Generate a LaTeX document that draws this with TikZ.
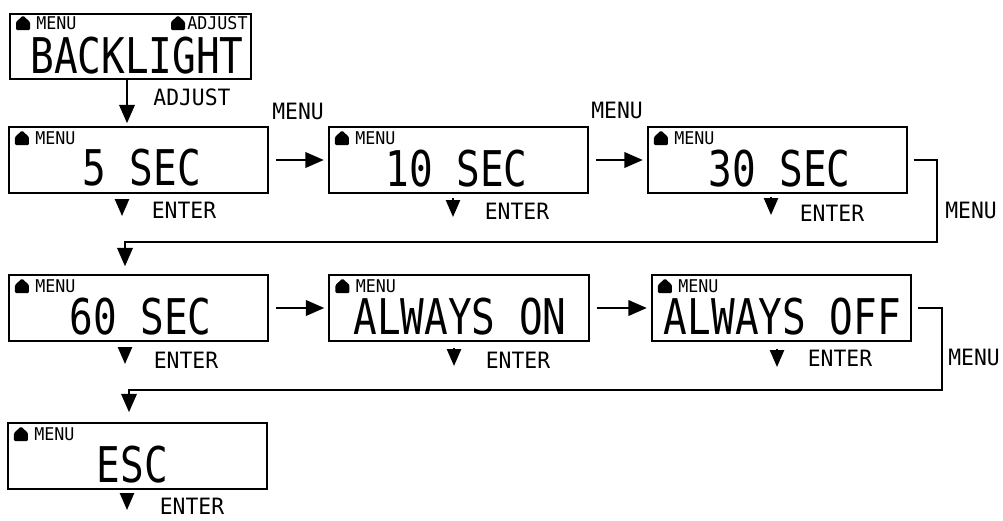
\documentclass[tikz,border=0pt]{standalone}
\usepackage{fontspec}
\usetikzlibrary{arrows.meta,calc,positioning}
\newfontfamily\lcdfont[FakeStretch=0.8]{DejaVu Sans Mono}
\newfontfamily\keyfont[FakeStretch=0.95]{DejaVu Sans Mono}
\tikzset{home/.pic={\fill[rounded corners=0.8pt] (-7,7) -- (-7,-1) -- (0,-7.5) -- (7,-1) -- (7,7) -- cycle;}}

\begin{document}
\begin{tikzpicture}[x=0.025cm,y=-0.025cm,
    screen/.style={rectangle,draw,line width=1.4pt,minimum width=6.475cm,minimum height=1.65cm,inner sep=0pt},
    big/.style={inner sep=0pt,font=\lcdfont\fontsize{35}{35}\selectfont},
    hdr/.style={inner sep=0pt,anchor=west,font=\keyfont\fontsize{12.5}{12.5}\selectfont},
    key/.style={inner sep=0pt,font=\keyfont\fontsize{16}{16}\selectfont},
    flow/.style={line width=1.4pt,-{Triangle[length=13pt,width=11pt]}},
    press/.style={line width=1.4pt,-{Triangle[length=12pt,width=10pt]}}]

 \useasboundingbox (0,0) rectangle (1003,520);

%Top screen
 \node[screen,minimum width=6.025cm,minimum height=1.625cm] (bl) at (130.5,46.5) {};
 \node[big] (bltxt) at (137,56) {BACKLIGHT};
 \pic at (23,23) {home};
 \node[hdr] (blmenu) at (36,23) {MENU};
 \pic at (178,23) {home};
 \node[hdr] (bladj) at (187,23) {ADJUST};

%Screens of the menu
 \node[screen] (s5) at (138.5,160) {};
 \node[big] (s5txt) at ($(s5)+(3,8)$) {5 SEC};
 \node[screen] (s10) at (458.5,160) {};
 \node[big] (s10txt) at ($(s10)+(-2,9)$) {10 SEC};
 \node[screen] (s30) at (777.5,160) {};
 \node[big] (s30txt) at ($(s30)+(2,9)$) {30 SEC};

 \node[screen] (s60) at (138.5,308) {};
 \node[big] (s60txt) at ($(s60)+(2,9)$) {60 SEC};
 \node[screen] (son) at (459,308) {};
 \node[big] (sontxt) at ($(son)+(1,9)$) {ALWAYS ON};
 \node[screen] (soff) at (781.5,308) {};
 \node[big] (sofftxt) at ($(soff)+(1,9)$) {ALWAYS OFF};

 \node[screen] (esc) at (137.5,456) {};
 \node[big] (esctxt) at ($(esc)+(-5,9)$) {ESC};

 \foreach \b in {s5,s10,s30,s60,son,soff,esc}
 {\pic at ($(\b.north west)+(14,12)$) {home};
  \node[hdr] (\b-menu) at ($(\b.north west)+(27,12)$) {MENU};}

%Key presses between screens
 \coordinate (c1) at (127,0);
 \draw[flow,shorten >=2pt] (bl.south -| c1) -- (s5.north -| c1);
 \node[key] (adj) at (192,97) {ADJUST};

 \draw[flow,shorten <=5pt,shorten >=3pt] (s5) -- (s10);
 \node[key] (m1) at (298,111) {MENU};
 \draw[flow,shorten <=5pt,shorten >=3pt] (s10) -- (s30);
 \node[key] (m2) at (617,110) {MENU};

 \coordinate (r1) at (937,242);
 \coordinate (l1) at (125,242);
 \draw[flow,shorten <=4pt,shorten >=5.5pt] (s30.east) -| (r1) -- (l1) -- (s60.north -| l1);
 \node[key] (m3) at (971,210) {MENU};

 \draw[flow,shorten <=5pt,shorten >=3pt] (s60) -- (son);
 \draw[flow,shorten <=5pt,shorten >=3pt] (son) -- (soff);

 \coordinate (r2) at (942,390);
 \coordinate (l2) at (129,390);
 \draw[flow,shorten <=4pt,shorten >=7pt] (soff.east) -| (r2) -- (l2) -- (esc.north -| l2);
 \node[key] (m4) at (974,357) {MENU};

%ENTER marks
 \coordinate (p5a) at (122,200);   \coordinate (p5b) at (122,216);
 \coordinate (p10a) at (453,198);  \coordinate (p10b) at (453,217);
 \coordinate (p30a) at (771,197);  \coordinate (p30b) at (771,215);
 \coordinate (p60a) at (125,347);  \coordinate (p60b) at (125,364);
 \coordinate (pona) at (454,348);  \coordinate (ponb) at (454,366);
 \coordinate (poffa) at (777,349); \coordinate (poffb) at (777,367);
 \coordinate (pesca) at (127,493); \coordinate (pescb) at (127,510);
 \foreach \p in {p5,p10,p30,p60,pon,poff,pesc}
  \draw[press] (\p a) -- (\p b);

 \node[key] (e5) at (184,210) {ENTER};
 \node[key] (e10) at (517,211) {ENTER};
 \node[key] (e30) at (832,213) {ENTER};
 \node[key] (e60) at (186,360) {ENTER};
 \node[key] (eon) at (518,360) {ENTER};
 \node[key] (eoff) at (840,358) {ENTER};
 \node[key] (eesc) at (192,506) {ENTER};

\end{tikzpicture}
\end{document}
